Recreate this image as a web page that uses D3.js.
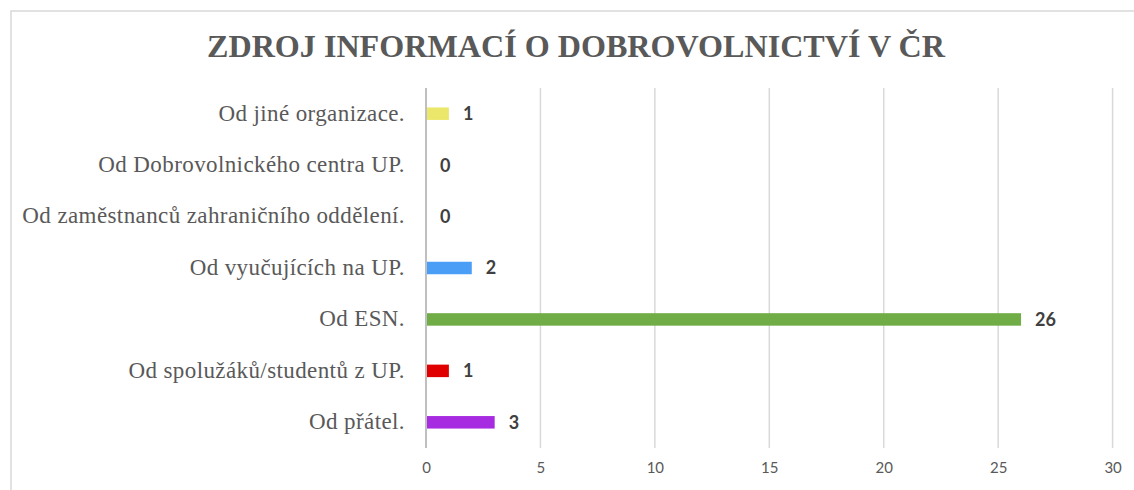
<!DOCTYPE html>
<html><head><meta charset="utf-8">
<script src="https://cdn.jsdelivr.net/npm/d3@7"></script>
<style>
html,body{margin:0;padding:0;background:#fff;}
svg{display:block;}
</style></head>
<body>
<svg id="chart" width="1134" height="490"></svg>
<script>
const title = "ZDROJ INFORMACÍ O DOBROVOLNICTVÍ V ČR";
const categories = [
  "Od jiné organizace.",
  "Od Dobrovolnického centra UP.",
  "Od zaměstnanců zahraničního oddělení.",
  "Od vyučujících na UP.",
  "Od ESN.",
  "Od spolužáků/studentů z UP.",
  "Od přátel."
];
const values = [1, 0, 0, 2, 26, 1, 3];
const colors = ["#ebe76a", "#a0a0a0", "#a0a0a0", "#4a9ef5", "#70ad47", "#e00000", "#a72be0"];
const xTicks = [0, 5, 10, 15, 20, 25, 30];

const svg = d3.select("#chart");
const plot = {left: 426, right: 1112.6, top: 88, bottom: 448};

// chart border
svg.append("rect").attr("x", 11).attr("y", 11).attr("width", 1140).attr("height", 500)
  .attr("fill", "none").attr("stroke", "#d9d9d9").attr("stroke-width", 1.5);

// title
svg.append("text").attr("x", 576).attr("y", 57).attr("text-anchor", "middle")
  .attr("font-family", "'Liberation Serif', serif").attr("font-weight", "bold")
  .attr("font-size", 32).attr("fill", "#595959")
  .attr("textLength", 738).attr("lengthAdjust", "spacingAndGlyphs")
  .text(title);

const x = d3.scaleLinear().domain([0, 30]).range([plot.left, plot.right]);
const y = d3.scaleBand().domain(categories).range([plot.top, plot.bottom]).paddingInner(0.757).paddingOuter(0.378);

// gridlines
svg.append("g").selectAll("line").data(xTicks.filter(d => d !== 0)).join("line")
  .attr("x1", d => x(d)).attr("x2", d => x(d))
  .attr("y1", plot.top).attr("y2", plot.bottom)
  .attr("stroke", "#d9d9d9").attr("stroke-width", 1.5);

// x axis tick labels
const xAxis = d3.axisBottom(x).tickValues(xTicks).tickSize(0).tickPadding(0).tickFormat(d3.format("d"));
const gx = svg.append("g").attr("transform", `translate(0,${plot.bottom + 14})`).call(xAxis);
gx.select(".domain").remove();
gx.selectAll("text").attr("font-family", "Lato, 'Open Sans', sans-serif").attr("font-size", 15)
  .attr("fill", "#595959").attr("dy", "0.71em");

// bars
svg.append("g").selectAll("rect").data(values).join("rect")
  .attr("x", x(0))
  .attr("y", (d, i) => y(categories[i]))
  .attr("width", d => x(d) - x(0))
  .attr("height", y.bandwidth())
  .attr("fill", (d, i) => colors[i]);

// zero axis line
svg.append("line").attr("x1", x(0)).attr("x2", x(0)).attr("y1", plot.top).attr("y2", plot.bottom)
  .attr("stroke", "#bfbfbf").attr("stroke-width", 2);

// category labels
const yAxis = d3.axisLeft(y).tickSize(0).tickPadding(21);
const gy = svg.append("g").attr("transform", `translate(${plot.left},0)`).call(yAxis);
gy.select(".domain").remove();
gy.selectAll("text").attr("font-family", "'Liberation Serif', 'Times New Roman', serif")
  .attr("font-size", 23).attr("fill", "#595959").attr("dy", "0.3em").attr("letter-spacing", "0.4px");

// data labels
svg.append("g").selectAll("text").data(values).join("text")
  .attr("x", d => x(d) + 14)
  .attr("y", (d, i) => y(categories[i]) + y.bandwidth() / 2)
  .attr("dy", "0.36em")
  .attr("font-family", "Lato, 'Open Sans', sans-serif").attr("font-weight", "bold")
  .attr("font-size", 18).attr("fill", "#404040")
  .text(d => d);
</script>
</body></html>
